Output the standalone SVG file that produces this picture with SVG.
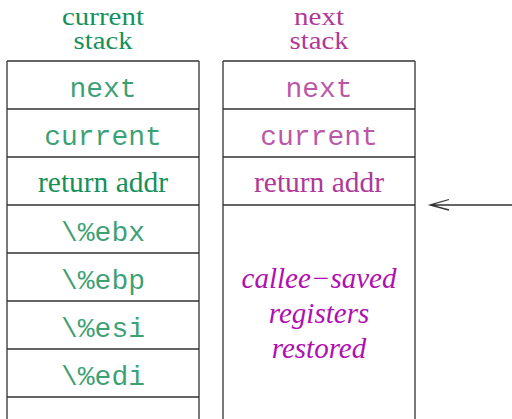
<svg xmlns="http://www.w3.org/2000/svg" width="512" height="419" viewBox="0 0 512 419">
  <style>
    .sep { stroke: #333333; stroke-width: 1.3; fill: none; }
    .title { font-family: "Liberation Serif", serif; font-size: 26px; text-anchor: middle; }
    .mono { font-family: "Liberation Mono", monospace; font-size: 28px; text-anchor: middle; fill-opacity: 0.85; }
    .serif { font-family: "Liberation Serif", serif; font-size: 29px; text-anchor: middle; }
    .note { font-family: "Liberation Serif", serif; font-size: 29px; font-style: italic; text-anchor: middle; fill: #b010b0; }
    .cur { fill: #16905a; }
    .nxt { fill: #b03898; }
    .conn { stroke: #333333; stroke-width: 1.3; fill: none; }
  </style>

  <!-- current stack -->
  <g id="current-stack">
    <text class="title cur" x="103" y="25" textLength="82" lengthAdjust="spacingAndGlyphs">current</text>
    <text class="title cur" x="103" y="49" textLength="59" lengthAdjust="spacingAndGlyphs">stack</text>
    <path class="sep" d="M7,61 V419 M199,61 V419 M7,61 H199 M7,109 H199 M7,157 H199 M7,205 H199 M7,253 H199 M7,301 H199 M7,349 H199 M7,397 H199"/>
    <text class="mono cur" x="103" y="97">next</text>
    <text class="mono cur" x="103" y="145">current</text>
    <text class="serif cur" x="103" y="192" textLength="130" lengthAdjust="spacingAndGlyphs">return addr</text>
    <text class="mono cur" x="103" y="241">\%ebx</text>
    <text class="mono cur" x="103" y="289">\%ebp</text>
    <text class="mono cur" x="103" y="337">\%esi</text>
    <text class="mono cur" x="103" y="385">\%edi</text>
  </g>

  <!-- next stack -->
  <g id="next-stack">
    <text class="title nxt" x="319" y="25" textLength="50" lengthAdjust="spacingAndGlyphs">next</text>
    <text class="title nxt" x="319" y="49" textLength="59" lengthAdjust="spacingAndGlyphs">stack</text>
    <path class="sep" d="M223,61 V419 M415,61 V419 M223,61 H415 M223,109 H415 M223,157 H415 M223,205 H415"/>
    <text class="mono nxt" x="319" y="97">next</text>
    <text class="mono nxt" x="319" y="145">current</text>
    <text class="serif nxt" x="319" y="192" textLength="130" lengthAdjust="spacingAndGlyphs">return addr</text>
    <text class="note" x="319" y="288">callee−saved</text>
    <text class="note" x="319" y="323">registers</text>
    <text class="note" x="319" y="358">restored</text>
  </g>

  <!-- stack pointer arrow -->
  <g id="connectors">
    <path class="conn" d="M512,205 H430 M449,199.5 L430,205 L449,210"/>
  </g>
</svg>
